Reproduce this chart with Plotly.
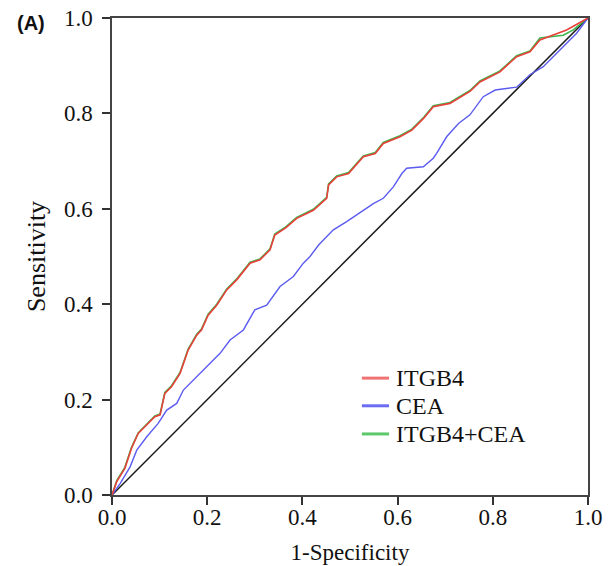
import plotly.graph_objects as go

# ROC curve points (1-specificity, sensitivity)
itgb4_fpr = [0.0, 0.010, 0.027, 0.041, 0.055, 0.073, 0.090, 0.101, 0.111, 0.125, 0.143, 0.160,
             0.178, 0.188, 0.202, 0.220, 0.241, 0.262, 0.290, 0.311, 0.332, 0.342, 0.365, 0.388,
             0.423, 0.451, 0.455, 0.472, 0.497, 0.528, 0.553, 0.570, 0.605, 0.630, 0.655, 0.675,
             0.710, 0.752, 0.773, 0.815, 0.850, 0.878, 0.899, 0.955, 1.0]
itgb4_tpr = [0.0, 0.028, 0.056, 0.098, 0.129, 0.147, 0.164, 0.168, 0.213, 0.227, 0.255, 0.304,
             0.335, 0.346, 0.377, 0.398, 0.430, 0.451, 0.486, 0.493, 0.514, 0.545, 0.560, 0.580,
             0.597, 0.622, 0.650, 0.667, 0.674, 0.709, 0.716, 0.737, 0.751, 0.765, 0.790, 0.814,
             0.821, 0.846, 0.866, 0.887, 0.919, 0.929, 0.954, 0.975, 1.0]

cea_fpr = [0.0, 0.017, 0.038, 0.052, 0.073, 0.097, 0.115, 0.136, 0.150, 0.178, 0.199, 0.227,
           0.248, 0.276, 0.300, 0.325, 0.353, 0.381, 0.402, 0.416, 0.434, 0.465, 0.493, 0.525,
           0.549, 0.570, 0.591, 0.609, 0.619, 0.654, 0.675, 0.682, 0.703, 0.728, 0.752, 0.780,
           0.805, 0.850, 0.878, 0.906, 0.941, 0.976, 1.0]
cea_tpr = [0.0, 0.024, 0.059, 0.094, 0.122, 0.150, 0.178, 0.192, 0.220, 0.248, 0.269, 0.297,
           0.325, 0.346, 0.388, 0.398, 0.437, 0.458, 0.486, 0.500, 0.524, 0.556, 0.573, 0.594,
           0.611, 0.622, 0.646, 0.674, 0.685, 0.688, 0.706, 0.716, 0.751, 0.779, 0.797, 0.835,
           0.849, 0.855, 0.881, 0.898, 0.933, 0.968, 1.0]

combo_fpr = [0.0, 0.010, 0.027, 0.041, 0.055, 0.073, 0.090, 0.101, 0.111, 0.125, 0.143, 0.160,
             0.178, 0.188, 0.202, 0.220, 0.241, 0.262, 0.290, 0.311, 0.332, 0.342, 0.365, 0.388,
             0.423, 0.451, 0.455, 0.472, 0.497, 0.528, 0.553, 0.570, 0.605, 0.630, 0.655, 0.675,
             0.710, 0.752, 0.773, 0.815, 0.850, 0.878, 0.899, 0.948, 0.969, 1.0]
combo_tpr = [0.0, 0.030, 0.058, 0.100, 0.130, 0.149, 0.166, 0.170, 0.215, 0.229, 0.257, 0.306,
             0.337, 0.348, 0.379, 0.400, 0.432, 0.453, 0.488, 0.495, 0.516, 0.547, 0.562, 0.582,
             0.599, 0.624, 0.652, 0.669, 0.676, 0.711, 0.718, 0.739, 0.753, 0.767, 0.792, 0.816,
             0.823, 0.848, 0.868, 0.889, 0.921, 0.931, 0.958, 0.964, 0.975, 1.0]

ref_line = [0.0, 1.0]
ticks = [0.0, 0.2, 0.4, 0.6, 0.8, 1.0]
tick_text = ["0.0", "0.2", "0.4", "0.6", "0.8", "1.0"]
legend_names = ["ITGB4", "CEA", "ITGB4+CEA"]
legend_colors = ["#f07272", "#6c6cf2", "#5cc86a"]

serif = "Liberation Serif"

fig = go.Figure()

# chance line
fig.add_trace(go.Scatter(x=ref_line, y=ref_line, mode="lines",
                         line=dict(color="#1a1a1a", width=1.5)))
# green under red so red is the visible one
fig.add_trace(go.Scatter(x=combo_fpr, y=combo_tpr, mode="lines", name=legend_names[2],
                         line=dict(color="#3cb44b", width=1.6)))
fig.add_trace(go.Scatter(x=cea_fpr, y=cea_tpr, mode="lines", name=legend_names[1],
                         line=dict(color="#5b5bf0", width=1.4)))
fig.add_trace(go.Scatter(x=itgb4_fpr, y=itgb4_tpr, mode="lines", name=legend_names[0],
                         line=dict(color="#e8403a", width=1.6)))

axis_style = dict(range=[0, 1], tickvals=ticks, ticktext=tick_text, ticks="outside",
                  ticklen=8, tickwidth=1.5, tickcolor="#333", showline=True, mirror=True,
                  linecolor="#444", linewidth=1.5, showgrid=False, zeroline=False,
                  automargin=False, ticklabeloverflow="allow",
                  tickfont=dict(family=serif, size=23, color="#111"))

fig.update_xaxes(**axis_style, ticklabelstandoff=-7,
                 title=dict(text="1-Specificity", standoff=15,
                            font=dict(family=serif, size=23, color="#111")))
fig.update_yaxes(**axis_style, ticklabelstandoff=5,
                 title=dict(text="Sensitivity", standoff=11,
                            font=dict(family=serif, size=26, color="#111")))

fig.add_annotation(text="<b>(A)</b>", xref="paper", yref="paper", x=-0.204, y=0.99,
                   xanchor="left", yanchor="middle", showarrow=False,
                   font=dict(family="Liberation Sans", size=20, color="#111"))

# hand-built legend so the rows sit as tight as in the reference
leg_y = [0.245, 0.187, 0.128]
for name, col, yy in zip(legend_names, legend_colors, leg_y):
    fig.add_shape(type="line", xref="paper", yref="paper", x0=0.525, x1=0.582, y0=yy, y1=yy,
                  line=dict(color=col, width=3))
    fig.add_annotation(text=name, xref="paper", yref="paper", x=0.593, y=yy,
                       xanchor="left", yanchor="middle", showarrow=False,
                       font=dict(family=serif, size=24, color="#111"))

fig.update_layout(
    width=612, height=566,
    margin=dict(l=112, r=24, t=18, b=71),
    plot_bgcolor="white", paper_bgcolor="white",
    showlegend=False,
)

# drop the page's default 8px body margin so the figure fills the window
fig.write_html("out.html", config={"displayModeBar": False},
               post_script="document.body.style.margin='0';")
